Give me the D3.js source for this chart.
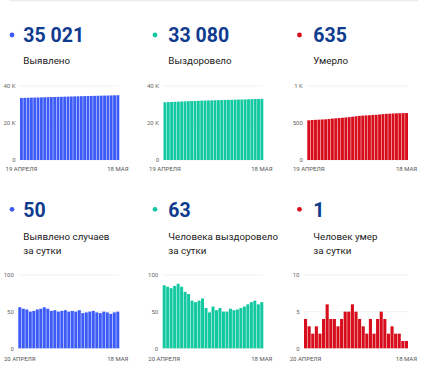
<!DOCTYPE html>
<html><head><meta charset="utf-8">
<script src="https://cdn.jsdelivr.net/npm/d3@7"></script>
<style>
html,body{margin:0;padding:0;background:#fff;}
svg{display:block;font-family:Roboto,"Noto Sans",sans-serif;}
</style></head>
<body>
<svg id="c" width="430" height="367"></svg>
<script>
// ---------- DATA ----------
const datesCum = ["19 АПРЕЛЯ","20.04","21.04","22.04","23.04","24.04","25.04","26.04","27.04","28.04","29.04","30.04","01.05","02.05","03.05","04.05","05.05","06.05","07.05","08.05","09.05","10.05","11.05","12.05","13.05","14.05","15.05","16.05","17.05","18 МАЯ"];
const datesDaily = ["20 АПРЕЛЯ","21.04","22.04","23.04","24.04","25.04","26.04","27.04","28.04","29.04","30.04","01.05","02.05","03.05","04.05","05.05","06.05","07.05","08.05","09.05","10.05","11.05","12.05","13.05","14.05","15.05","16.05","17.05","18 МАЯ"];

const casesTotal = [33541,33597,33651,33704,33754,33805,33858,33912,33968,34022,34073,34125,34175,34226,34278,34328,34379,34429,34481,34529,34578,34628,34679,34728,34776,34826,34875,34922,34971,35021];
const recoveredTotal = [31209,31295,31379,31461,31546,31634,31718,31795,31869,31934,31997,32062,32130,32185,32234,32291,32343,32398,32448,32498,32552,32604,32657,32712,32769,32829,32892,32957,33017,33080];
const deathsTotal = [536,540,543,545,548,550,554,560,564,568,571,575,580,585,591,596,600,603,605,609,611,615,620,624,626,629,631,633,634,635];

const casesDaily = [56,54,53,50,51,53,54,56,54,51,52,50,51,52,50,51,50,52,48,49,50,51,49,48,50,49,47,49,50];
const recoveredDaily = [86,84,82,85,88,84,77,74,65,63,65,68,55,49,57,52,55,50,50,54,52,53,55,57,60,63,65,60,63];
const deathsDaily = [4,3,2,3,2,4,6,4,4,3,4,5,5,6,5,4,3,2,4,2,4,5,4,2,3,2,2,1,1];

const headlineNumbers = ["35 021","33 080","635","50","63","1"];
const titles = [["Выявлено"],["Выздоровело"],["Умерло"],["Выявлено случаев","за сутки"],["Человека выздоровело","за сутки"],["Человек умер","за сутки"]];
const yTicksTop = [[0,20000,40000],[0,20000,40000],[0,500,1000]];
const yTickLabelsTop = [["0","20 K","40 K"],["0","20 K","40 K"],["0","500","1 K"]];
const yTicksBottom = [[0,50,100],[0,50,100],[0,5,10]];
const yTickLabelsBottom = [["0","50","100"],["0","50","100"],["0","5","10"]];

// ---------- STYLE / LAYOUT ----------
const colors = ["#3d5cf7","#12c9a1","#d70d1c"];
const numColor = "#0f3b8f";
const col = [
  {dotX:12, textX:23.3, top:{l:20, r:119.3}, bot:{l:18.3, r:119.3}},
  {dotX:155, textX:168.3, top:{l:163.5, r:263.3}, bot:{l:162.7, r:263.3}},
  {dotX:299.5, textX:313.3, top:{l:307.3, r:408}, bot:{l:304, r:408}}
];
const rows = [
  {dotY:35, numY:41.7, labelY:64, plotT:86, plotB:160, xLabY:170.7},
  {dotY:209.3, numY:216.6, labelY:239.5, plotT:275, plotB:348.3, xLabY:360.5}
];

const svg = d3.select("#c");
svg.append("rect").attr("x",9).attr("y",0).attr("width",409).attr("height",1.3).attr("fill","#ececec");

const panels = [
  {r:0,c:0,data:casesTotal,dates:datesCum,max:40000,ticks:yTicksTop[0],tl:yTickLabelsTop[0]},
  {r:0,c:1,data:recoveredTotal,dates:datesCum,max:40000,ticks:yTicksTop[1],tl:yTickLabelsTop[1]},
  {r:0,c:2,data:deathsTotal,dates:datesCum,max:1000,ticks:yTicksTop[2],tl:yTickLabelsTop[2]},
  {r:1,c:0,data:casesDaily,dates:datesDaily,max:100,ticks:yTicksBottom[0],tl:yTickLabelsBottom[0]},
  {r:1,c:1,data:recoveredDaily,dates:datesDaily,max:100,ticks:yTicksBottom[1],tl:yTickLabelsBottom[1]},
  {r:1,c:2,data:deathsDaily,dates:datesDaily,max:10,ticks:yTicksBottom[2],tl:yTickLabelsBottom[2]}
];

panels.forEach((p,i)=>{
  const R = rows[p.r], C = col[p.c], box = p.r===0 ? C.top : C.bot;
  const g = svg.append("g");
  g.append("circle").attr("cx",C.dotX).attr("cy",R.dotY).attr("r",2.4).attr("fill",colors[p.c]);
  g.append("text").attr("x",C.textX).attr("y",R.numY).attr("font-size",19.5).attr("font-weight",700)
    .attr("fill",numColor).text(headlineNumbers[i]);
  titles[i].forEach((t,k)=>{
    g.append("text").attr("x",C.textX).attr("y",R.labelY+k*14).attr("font-size",9.8)
      .attr("fill","#222").text(t);
  });
  const x = d3.scaleBand().domain(p.dates).range([box.l, box.r]).paddingInner(0.14).paddingOuter(0);
  const y = d3.scaleLinear().domain([0,p.max]).range([R.plotB, R.plotT]);
  g.selectAll(".grid").data(p.ticks).join("line")
    .attr("x1",box.l).attr("x2",box.r).attr("y1",d=>y(d)).attr("y2",d=>y(d))
    .attr("stroke","#eeeeee").attr("stroke-width",0.8);
  g.selectAll(".bar").data(p.data).join("rect")
    .attr("x",(d,j)=>x(p.dates[j])).attr("width",x.bandwidth())
    .attr("y",d=>y(d)).attr("height",d=>y(0)-y(d)).attr("fill",colors[p.c]);
  const yAxis = d3.axisLeft(y).tickValues(p.ticks).tickSize(0).tickPadding(0)
    .tickFormat((d,k)=>p.tl[k]);
  const ya = g.append("g").attr("transform",`translate(${box.l-4.5},0)`).call(yAxis);
  ya.select(".domain").remove();
  ya.selectAll("text").attr("font-size",6).attr("fill","#666").attr("font-family","Roboto");
  const first = p.dates[0], last = p.dates[p.dates.length-1];
  const xAxis = d3.axisBottom(x).tickValues([first,last]).tickSize(0).tickPadding(0);
  const xa = g.append("g").attr("transform",`translate(0,${R.xLabY-5})`).call(xAxis);
  xa.select(".domain").remove();
  xa.selectAll("text").attr("font-size",6).attr("fill","#555").attr("font-family","Roboto").attr("dy",0).attr("y",5);
});
</script>
</body></html>
